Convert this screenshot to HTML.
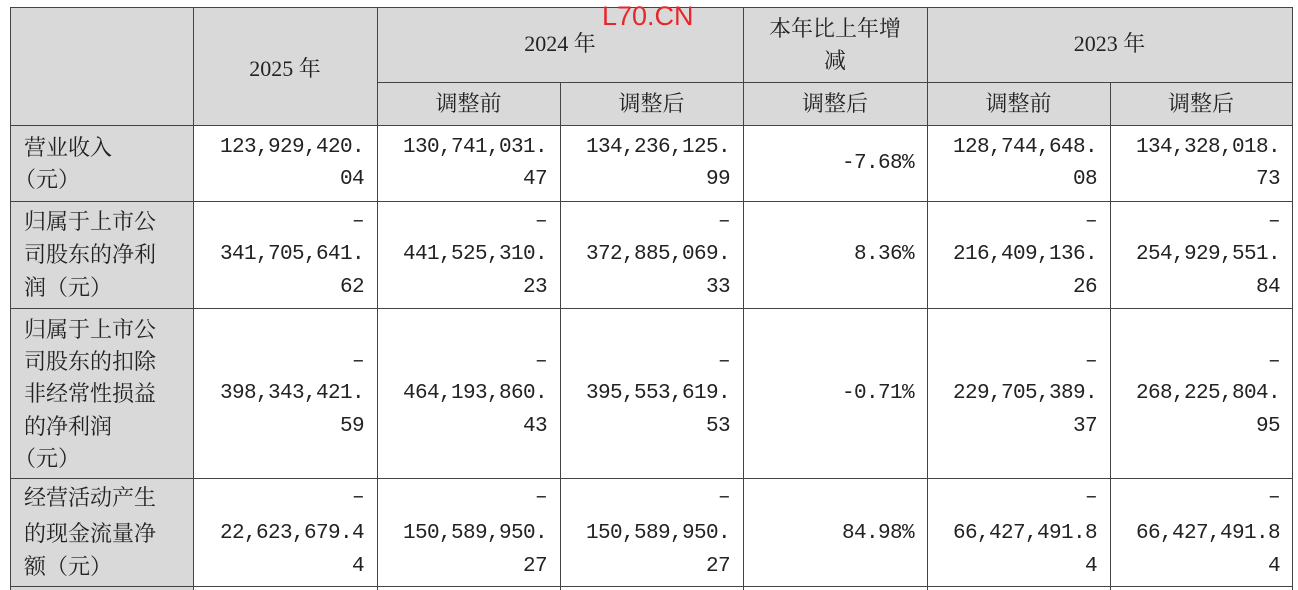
<!DOCTYPE html>
<html><head><meta charset="utf-8"><style>
body{margin:0;width:1298px;height:590px;background:#fff;position:relative;overflow:hidden;font-family:"Liberation Serif","Noto Serif CJK SC",serif;color:#222}
.g{position:absolute;background:#d9d9d9}
.h{position:absolute;height:1px;background:#444}
.v{position:absolute;width:1px;background:#444}
.t{position:absolute;font-size:22px;line-height:32px;white-space:nowrap}
.n{position:absolute;font-family:"Liberation Mono",monospace;font-size:21px;letter-spacing:-0.6px;line-height:32px;white-space:nowrap;text-align:right}
.c{text-align:center}
</style></head><body>
<div class="g" style="left:10px;top:7px;width:1282px;height:118px"></div>
<div class="g" style="left:10px;top:125px;width:183px;height:465px"></div>
<div class="h" style="left:10px;top:7px;width:1283px"></div>
<div class="h" style="left:377px;top:82px;width:916px"></div>
<div class="h" style="left:10px;top:125px;width:1283px"></div>
<div class="h" style="left:10px;top:201px;width:1283px"></div>
<div class="h" style="left:10px;top:308px;width:1283px"></div>
<div class="h" style="left:10px;top:478px;width:1283px"></div>
<div class="h" style="left:10px;top:586px;width:1283px"></div>
<div class="v" style="left:10px;top:7px;height:583px"></div>
<div class="v" style="left:193px;top:7px;height:583px"></div>
<div class="v" style="left:377px;top:7px;height:583px"></div>
<div class="v" style="left:560px;top:82px;height:508px"></div>
<div class="v" style="left:743px;top:7px;height:583px"></div>
<div class="v" style="left:927px;top:7px;height:583px"></div>
<div class="v" style="left:1110px;top:82px;height:508px"></div>
<div class="v" style="left:1292px;top:7px;height:583px"></div>
<div style="position:absolute;left:602px;top:1px;color:#e8262a;font-family:'Liberation Sans',sans-serif;font-size:27px">L70.CN</div>
<div class="t c" style="left:193px;width:184px;top:53px">2025 年</div>
<div class="t c" style="left:377px;width:366px;top:28px">2024 年</div>
<div class="t c" style="left:743px;width:184px;top:13px">本年比上年增</div>
<div class="t c" style="left:743px;width:184px;top:45px">减</div>
<div class="t c" style="left:927px;width:365px;top:28px">2023 年</div>
<div class="t c" style="left:377px;width:183px;top:88px">调整前</div>
<div class="t c" style="left:560px;width:183px;top:88px">调整后</div>
<div class="t c" style="left:743px;width:184px;top:88px">调整后</div>
<div class="t c" style="left:927px;width:183px;top:88px">调整前</div>
<div class="t c" style="left:1110px;width:182px;top:88px">调整后</div>
<div class="t" style="left:24px;top:132px">营业收入</div>
<div class="t" style="left:14px;top:164px">（元）</div>
<div class="t" style="left:24px;top:206px">归属于上市公</div>
<div class="t" style="left:24px;top:239px">司股东的净利</div>
<div class="t" style="left:24px;top:272px">润（元）</div>
<div class="t" style="left:24px;top:314px">归属于上市公</div>
<div class="t" style="left:24px;top:346px">司股东的扣除</div>
<div class="t" style="left:24px;top:378px">非经常性损益</div>
<div class="t" style="left:24px;top:411px">的净利润</div>
<div class="t" style="left:14px;top:443px">（元）</div>
<div class="t" style="left:24px;top:482px">经营活动产生</div>
<div class="t" style="left:24px;top:518px">的现金流量净</div>
<div class="t" style="left:24px;top:551px">额（元）</div>
<div class="n" style="right:934px;top:132px">123,929,420.</div><div class="n" style="right:934px;top:164px">04</div>
<div class="n" style="right:751px;top:132px">130,741,031.</div><div class="n" style="right:751px;top:164px">47</div>
<div class="n" style="right:568px;top:132px">134,236,125.</div><div class="n" style="right:568px;top:164px">99</div>
<div class="n" style="right:384px;top:148px">-7.68%</div>
<div class="n" style="right:201px;top:132px">128,744,648.</div><div class="n" style="right:201px;top:164px">08</div>
<div class="n" style="right:18px;top:132px">134,328,018.</div><div class="n" style="right:18px;top:164px">73</div>
<div class="n" style="right:934px;top:206px">–</div><div class="n" style="right:934px;top:239px">341,705,641.</div><div class="n" style="right:934px;top:272px">62</div>
<div class="n" style="right:751px;top:206px">–</div><div class="n" style="right:751px;top:239px">441,525,310.</div><div class="n" style="right:751px;top:272px">23</div>
<div class="n" style="right:568px;top:206px">–</div><div class="n" style="right:568px;top:239px">372,885,069.</div><div class="n" style="right:568px;top:272px">33</div>
<div class="n" style="right:384px;top:239px">8.36%</div>
<div class="n" style="right:201px;top:206px">–</div><div class="n" style="right:201px;top:239px">216,409,136.</div><div class="n" style="right:201px;top:272px">26</div>
<div class="n" style="right:18px;top:206px">–</div><div class="n" style="right:18px;top:239px">254,929,551.</div><div class="n" style="right:18px;top:272px">84</div>
<div class="n" style="right:934px;top:346px">–</div><div class="n" style="right:934px;top:378px">398,343,421.</div><div class="n" style="right:934px;top:411px">59</div>
<div class="n" style="right:751px;top:346px">–</div><div class="n" style="right:751px;top:378px">464,193,860.</div><div class="n" style="right:751px;top:411px">43</div>
<div class="n" style="right:568px;top:346px">–</div><div class="n" style="right:568px;top:378px">395,553,619.</div><div class="n" style="right:568px;top:411px">53</div>
<div class="n" style="right:384px;top:378px">-0.71%</div>
<div class="n" style="right:201px;top:346px">–</div><div class="n" style="right:201px;top:378px">229,705,389.</div><div class="n" style="right:201px;top:411px">37</div>
<div class="n" style="right:18px;top:346px">–</div><div class="n" style="right:18px;top:378px">268,225,804.</div><div class="n" style="right:18px;top:411px">95</div>
<div class="n" style="right:934px;top:482px">–</div><div class="n" style="right:934px;top:518px">22,623,679.4</div><div class="n" style="right:934px;top:551px">4</div>
<div class="n" style="right:751px;top:482px">–</div><div class="n" style="right:751px;top:518px">150,589,950.</div><div class="n" style="right:751px;top:551px">27</div>
<div class="n" style="right:568px;top:482px">–</div><div class="n" style="right:568px;top:518px">150,589,950.</div><div class="n" style="right:568px;top:551px">27</div>
<div class="n" style="right:384px;top:518px">84.98%</div>
<div class="n" style="right:201px;top:482px">–</div><div class="n" style="right:201px;top:518px">66,427,491.8</div><div class="n" style="right:201px;top:551px">4</div>
<div class="n" style="right:18px;top:482px">–</div><div class="n" style="right:18px;top:518px">66,427,491.8</div><div class="n" style="right:18px;top:551px">4</div>
</body></html>
